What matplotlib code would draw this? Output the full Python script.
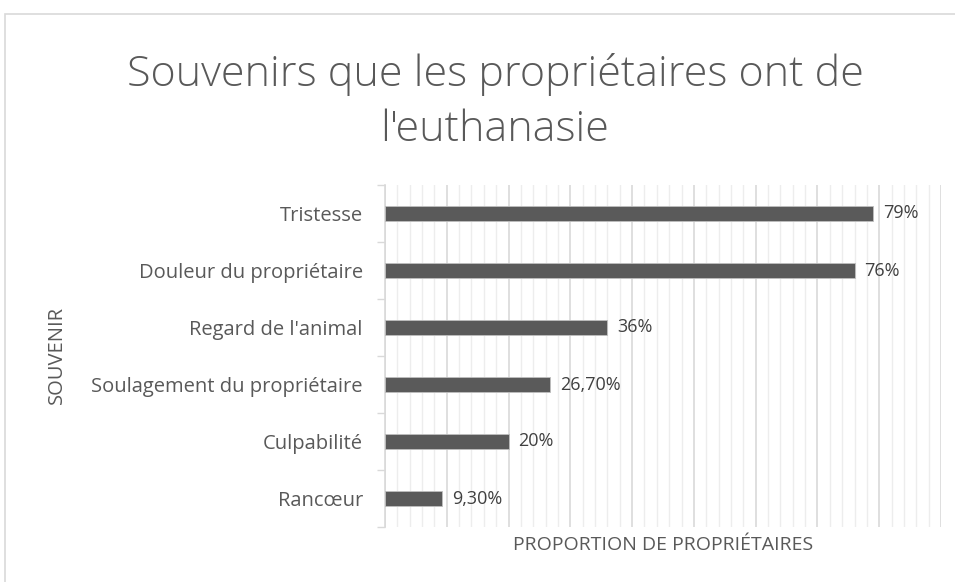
import matplotlib
matplotlib.use("Agg")
import matplotlib.pyplot as plt
from matplotlib.patches import Rectangle
from matplotlib.ticker import MultipleLocator

categories = ["Tristesse", "Douleur du propriétaire", "Regard de l'animal",
              "Soulagement du propriétaire", "Culpabilité", "Rancœur"]
values = [79, 76, 36, 26.7, 20, 9.3]
labels = ["79%", "76%", "36%", "26,70%", "20%", "9,30%"]

title = "Souvenirs que les propriétaires ont de\nl'euthanasie"
xlabel = "PROPORTION DE PROPRIÉTAIRES"
ylabel = "SOUVENIR"

W, H = 955, 582
fig = plt.figure(figsize=(W / 100, H / 100), dpi=100)
plt.rcParams['font.family'] = ['Open Sans', 'DejaVu Sans']
txt = "#595959"

# chart border
fig.patches.append(Rectangle((5 / W, -0.1), 1.2, 1 - 14 / H + 0.1, transform=fig.transFigure,
                             fill=False, edgecolor="#d9d9d9", linewidth=1.2))

left, right, top, bottom = 385, 941, 185, 527
ax = fig.add_axes([left / W, 1 - bottom / H, (right - left) / W, (bottom - top) / H])

n = len(categories)
ypos = list(range(n))[::-1]
ax.barh(ypos, values, height=0.28, color="#5a5a5a", edgecolor="#bfbfbf", linewidth=0.6, zorder=3)
for y, v, l in zip(ypos, values, labels):
    ax.text(v + 1.6, y, l, va="center", ha="left", fontsize=13, color="#404040")

ax.set_xlim(0, 90)
ax.set_ylim(-0.5, n - 0.5)
ax.xaxis.set_major_locator(MultipleLocator(10))
ax.xaxis.set_minor_locator(MultipleLocator(2))
ax.grid(axis="x", which="major", color="#d9d9d9", linewidth=1.2, zorder=0)
ax.grid(axis="x", which="minor", color="#ededed", linewidth=1.0, zorder=0)
ax.tick_params(axis="x", which="both", length=0, labelbottom=False)

ax.set_yticks(ypos)
ax.set_yticklabels(categories, fontsize=14.5, color=txt)
ax.set_yticks([i - 0.5 for i in range(n + 1)], minor=True)
ax.tick_params(axis="y", which="major", length=0, pad=16)
ax.tick_params(axis="y", which="minor", length=6, color="#d9d9d9", width=1)

for s in ["top", "right", "bottom"]:
    ax.spines[s].set_visible(False)
ax.spines["left"].set_color("#d9d9d9")
ax.spines["left"].set_linewidth(1.2)

fig.text(495 / W, 1 - 102 / H, title, ha="center", va="center", fontsize=31,
         color=txt, fontweight="light", linespacing=1.38)
fig.text(663 / W, 1 - 545 / H, xlabel, ha="center", va="center", fontsize=14, color=txt)
fig.text(57 / W, 1 - 355 / H, ylabel, ha="center", va="center", fontsize=14.5,
         color=txt, rotation=90)

fig.savefig("out.png", dpi=100)
